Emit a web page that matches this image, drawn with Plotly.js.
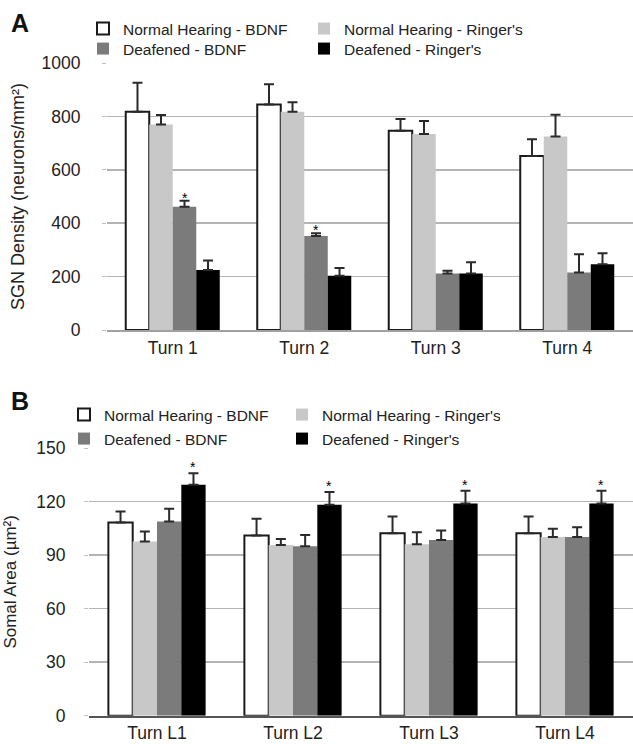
<!DOCTYPE html>
<html>
<head>
<meta charset="utf-8">
<script src="https://cdn.plot.ly/plotly-3.0.1.min.js"></script>
<style>html,body{margin:0;padding:0;background:#fff;}#chart{width:633px;height:744px;}</style>
</head>
<body>
<div id="chart"></div>
<script>
// ---- Data ----
var seriesNames = ["Normal Hearing - BDNF", "Normal Hearing - Ringer's", "Deafened - BDNF", "Deafened - Ringer's"];

// Panel A: SGN density (neurons/mm²)
var turnsA = ["Turn 1", "Turn 2", "Turn 3", "Turn 4"];
var densNhBdnf      = [817, 845, 746, 652];
var densNhBdnfErr   = [109, 75, 44, 62];
var densNhRinger    = [770, 817, 734, 725];
var densNhRingerErr = [35, 36, 49, 81];
var densDBdnf       = [462, 352, 212, 215];
var densDBdnfErr    = [22, 10, 10, 69];
var densDRinger     = [225, 203, 212, 246];
var densDRingerErr  = [35, 29, 42, 41];
var sigA = [2, 2, null, null];   // series index carrying an asterisk per turn

// Panel B: Somal area (µm²)
var turnsB = ["Turn L1", "Turn L2", "Turn L3", "Turn L4"];
var areaNhBdnf      = [108.2, 101.0, 102.3, 102.3];
var areaNhBdnfErr   = [6.2, 9.3, 9.3, 9.3];
var areaNhRinger    = [97.6, 95.7, 96.1, 100.2];
var areaNhRingerErr = [5.6, 3.3, 6.7, 4.5];
var areaDBdnf       = [108.8, 95.0, 98.4, 100.2];
var areaDBdnfErr    = [7.1, 6.3, 5.4, 5.4];
var areaDRinger     = [129.4, 118.2, 118.9, 118.9];
var areaDRingerErr  = [6.5, 7.1, 7.1, 7.1];
var sigB = [3, 3, 3, 3];

// ---- Styling ----
var FONT = "Liberation Sans, Arial, Helvetica, sans-serif";
var fills = ["#ffffff", "#c8c8c8", "#7b7b7b", "#000000"];
var outlineW = [2, 0, 0, 0];
var legendRowA = ["legend", "legend", "legend2", "legend2"];
var legendRowB = ["legend3", "legend3", "legend4", "legend4"];
var BARGAP = 0.285;

function mkTraces(cats, vals, errs, xa, ya, legs) {
  return vals.map(function (v, i) {
    return {
      type: "bar", x: cats, y: v, name: seriesNames[i],
      xaxis: xa, yaxis: ya, legend: legs[i],
      marker: { color: fills[i], line: { color: "#1a1a1a", width: outlineW[i] } },
      error_y: { type: "data", array: errs[i], symmetric: false,
                 arrayminus: errs[i].map(function () { return 0; }),
                 color: "#2a2a2a", thickness: 2, width: 5 },
      hoverinfo: "none"
    };
  });
}

var valsA = [densNhBdnf, densNhRinger, densDBdnf, densDRinger];
var errsA = [densNhBdnfErr, densNhRingerErr, densDBdnfErr, densDRingerErr];
var valsB = [areaNhBdnf, areaNhRinger, areaDBdnf, areaDRinger];
var errsB = [areaNhBdnfErr, areaNhRingerErr, areaDBdnfErr, areaDRingerErr];

var data = mkTraces(turnsA, valsA, errsA, "x", "y", legendRowA)
  .concat(mkTraces(turnsB, valsB, errsB, "x2", "y2", legendRowB));

// asterisks from data
var bw = (1 - BARGAP) / 4;
function offs(k) { return (k - 1.5) * bw; }
var annotations = [];
sigA.forEach(function (k, i) {
  if (k === null) return;
  annotations.push({ xref: "x", yref: "y", x: i + offs(k), y: valsA[k][i] + errsA[k][i],
    text: "*", showarrow: false, yanchor: "middle", yshift: 3, font: { family: FONT, size: 14, color: "#000" } });
});
sigB.forEach(function (k, i) {
  if (k === null) return;
  annotations.push({ xref: "x2", yref: "y2", x: i + offs(k), y: valsB[k][i] + errsB[k][i],
    text: "*", showarrow: false, yanchor: "middle", yshift: 6, font: { family: FONT, size: 14, color: "#000" } });
});
annotations.push({ xref: "paper", yref: "paper", x: 20 / 633, y: 1 - 23 / 744, text: "<b>A</b>",
  showarrow: false, xanchor: "center", yanchor: "middle", font: { family: FONT, size: 25, color: "#111" } });
annotations.push({ xref: "paper", yref: "paper", x: 20 / 633, y: 1 - 401 / 744, text: "<b>B</b>",
  showarrow: false, xanchor: "center", yanchor: "middle", font: { family: FONT, size: 25, color: "#111" } });

var tickFont = { family: FONT, size: 17.5, color: "#222" };

function mkLegend(xLeft, yTop, entryW) {
  return { orientation: "h", x: xLeft / 633, xanchor: "left", y: 1 - yTop / 744, yanchor: "top",
           entrywidth: entryW, entrywidthmode: "pixels", font: { family: FONT, size: 15.5, color: "#222" },
           bgcolor: "rgba(0,0,0,0)", traceorder: "normal", itemclick: false };
}

var layout = {
  width: 633, height: 744,
  margin: { l: 0, r: 0, t: 0, b: 0 },
  paper_bgcolor: "#fff", plot_bgcolor: "#fff",
  barmode: "group", bargap: BARGAP, bargroupgap: 0,
  font: { family: FONT, color: "#222" },
  xaxis: { domain: [107 / 633, 1], anchor: "y", showline: true, linecolor: "#a0a0a0", linewidth: 2,
           ticks: "", tickfont: tickFont, ticklabelstandoff: 1, showgrid: false, zeroline: false, fixedrange: true },
  yaxis: { domain: [1 - 330 / 744, 1 - 63 / 744], anchor: "x", range: [0, 1000], tickvals: [0, 200, 400, 600, 800, 1000],
           showgrid: true, gridcolor: "#b4b4b4", gridwidth: 1.5, zeroline: false, showline: false,
           ticks: "outside", ticklen: 4, tickcolor: "#c0c0c0", tickfont: tickFont, ticklabelstandoff: 18,
           title: { text: "SGN Density (neurons/mm²)", font: { family: FONT, size: 18, color: "#222" }, standoff: 12 } },
  xaxis2: { domain: [89 / 633, 1], anchor: "y2", showline: true, linecolor: "#555", linewidth: 2.5,
            ticks: "", tickfont: tickFont, ticklabelstandoff: 0, showgrid: false, zeroline: false },
  yaxis2: { domain: [1 - 715.7 / 744, 1 - 448 / 744], anchor: "x2", range: [0, 150], tickvals: [0, 30, 60, 90, 120, 150],
            showgrid: true, gridcolor: "#b4b4b4", gridwidth: 1.5, zeroline: false, showline: false,
            ticks: "outside", ticklen: 4, tickcolor: "#c0c0c0", tickfont: tickFont, ticklabelstandoff: 15,
            title: { text: "Somal Area (µm²)", font: { family: FONT, size: 17, color: "#222" }, standoff: 15 } },
  legend:  mkLegend(83, 12, 176),
  legend2: mkLegend(83, 32, 176),
  legend3: mkLegend(64, 398, 173),
  legend4: mkLegend(64, 422, 173),
  annotations: annotations,
  showlegend: true
};

Plotly.newPlot("chart", data, layout, { displayModeBar: false, staticPlot: true });
</script>
</body>
</html>
